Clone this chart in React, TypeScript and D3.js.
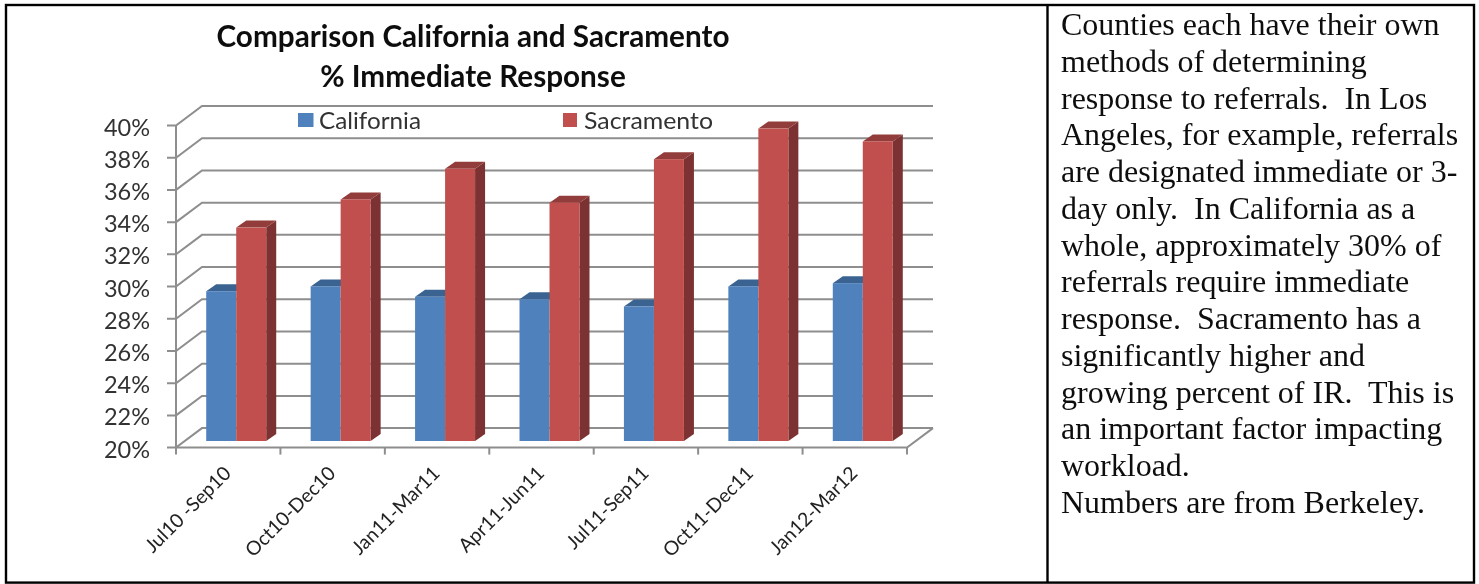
import React from "react";
import * as d3 from "d3";

const categories = ["Jul10 -Sep10", "Oct10-Dec10", "Jan11-Mar11", "Apr11-Jun11", "Jul11-Sep11", "Oct11-Dec11", "Jan12-Mar12"];
const californiaValues = [29.3, 29.6, 28.95, 28.8, 28.35, 29.6, 29.8];
const sacramentoValues = [33.25, 35.0, 36.9, 34.8, 37.5, 39.4, 38.6];
const yTicks = [20, 22, 24, 26, 28, 30, 32, 34, 36, 38, 40];
const titleLines = ["Comparison California and Sacramento", "% Immediate Response"];
const bodyLines = [
  "Counties each have their own",
  "methods of determining",
  "response to referrals.\u00A0 In Los",
  "Angeles, for example, referrals",
  "are designated immediate or 3-",
  "day only.\u00A0 In California as a",
  "whole, approximately 30% of",
  "referrals require immediate",
  "response.\u00A0 Sacramento has a",
  "significantly higher and",
  "growing percent of IR.\u00A0 This is",
  "an important factor impacting",
  "workload.",
  "Numbers are from Berkeley.",
];

const W = 1479, H = 584;
const x0 = 176, x1 = 907, yBottom = 447.6, yTop = 125.5;
const wallDx = 26, wallDy = -19.5;
const barDx = 8, barDy = -6.6, sideDx = 10, sideDy = -7;
const BLUE = "#4f81bd", BLUE_TOP = "#3a6391", RED = "#c0504d", RED_TOP = "#923e3b", RED_SIDE = "#7b3230";
const GRID = "#8e8e8e";
const CHART_FONT = "Lato, 'Open Sans', sans-serif";

const x = d3.scaleBand<string>().domain(categories).range([x0, x1]).paddingInner(0).paddingOuter(0);
const y = d3.scaleLinear().domain([20, 40]).range([yBottom, yTop]);
const barW = 30;
const inner = (x.bandwidth() - 2 * barW) / 2;

function Bar({ left, v, fill, top, side }: { left: number; v: number; fill: string; top: string; side?: string }) {
  const t = y(v) + barDy, b = y(20) + barDy;
  const r = left + barW;
  return (
    <g>
      {side && <polygon points={`${r},${t} ${r + sideDx},${t + sideDy} ${r + sideDx},${b + sideDy} ${r},${b}`} fill={side} />}
      <polygon points={`${left},${t} ${left + sideDx},${t + sideDy} ${r + sideDx},${t + sideDy} ${r},${t}`} fill={top} />
      <rect x={left} y={t} width={barW} height={b - t} fill={fill} />
    </g>
  );
}

export default function App() {
  return (
    <svg width={W} height={H} viewBox={`0 0 ${W} ${H}`} style={{ position: "fixed", left: 0, top: 0, background: "#fff" }}>
      <defs>
        <filter id="soft" x="-5%" y="-5%" width="110%" height="110%">
          <feGaussianBlur stdDeviation="0.45" />
        </filter>
      </defs>
      <rect width={W} height={H} fill="#fff" />
      <g filter="url(#soft)">
        {yTicks.map((t) => (
          <g key={t} stroke={GRID} strokeWidth={2} fill="none">
            <path d={`M${x0 - 9},${y(t)} H${x0} L${x0 + wallDx},${y(t) + wallDy} H${x1 + wallDx}`} />
          </g>
        ))}
        <path d={`M${x0},${yTop} V${yBottom + 7}`} stroke={GRID} strokeWidth={2} fill="none" />
        <path d={`M${x0},${yBottom} H${x1} L${x1 + wallDx},${yBottom + wallDy}`} stroke={GRID} strokeWidth={2} fill="none" />
        {categories.map((c) => (
          <path key={c} d={`M${(x(c) as number) + x.bandwidth()},${yBottom} v7`} stroke={GRID} strokeWidth={2} />
        ))}
        {categories.map((c, i) => {
          const left = (x(c) as number) + inner + barDx;
          return (
            <g key={c}>
              <Bar left={left} v={californiaValues[i]} fill={BLUE} top={BLUE_TOP} />
              <Bar left={left + barW} v={sacramentoValues[i]} fill={RED} top={RED_TOP} side={RED_SIDE} />
            </g>
          );
        })}
        <rect x={298} y={113} width={15.5} height={14} fill={BLUE} />
        <rect x={563} y={113} width={14} height={14} fill={RED} />
        <g fontFamily={CHART_FONT}>
          <text x={319} y={128.5} fontSize={24} fill="#333" textLength={102} lengthAdjust="spacingAndGlyphs">California</text>
          <text x={584} y={128.5} fontSize={24} fill="#333" textLength={129} lengthAdjust="spacingAndGlyphs">Sacramento</text>
          {titleLines.map((l, i) => (
            <text key={l} x={473} y={47 + i * 40} textAnchor="middle" fontSize={29.7} fontWeight={700} fill="#111">{l}</text>
          ))}
          {yTicks.map((t) => (
            <text key={t} x={150} y={y(t) + 10} textAnchor="end" fontSize={23.5} fill="#333">{t}%</text>
          ))}
          {categories.map((c) => {
            const cx = (x(c) as number) + x.bandwidth() / 2;
            return (
              <text key={c} transform={`translate(${cx + 4},${yBottom + 27}) rotate(-45)`} textAnchor="end" fontSize={19.4} fill="#222">{c}</text>
            );
          })}
        </g>
        <g fontFamily="'Liberation Serif', serif" fontSize={32} fill="#111">
          {bodyLines.map((l, i) => (
            <text key={i} x={1061} y={35 + i * 36.77} xmlSpace="preserve">{l}</text>
          ))}
        </g>
      </g>
      <g stroke="#000" strokeWidth={2.4} fill="none">
        <rect x={6} y={5} width={1468} height={577.6} />
        <path d={`M1047.5,5 V582.6`} />
      </g>
    </svg>
  );
}
